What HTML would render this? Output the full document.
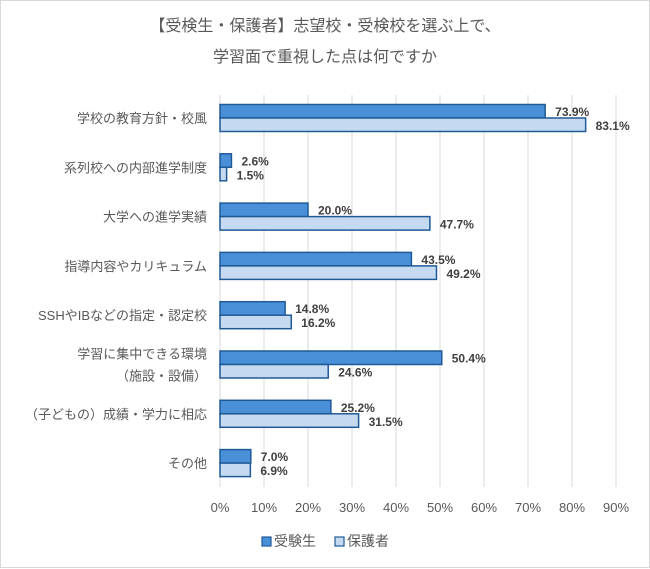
<!DOCTYPE html>
<html><head><meta charset="utf-8"><style>
body{margin:0;background:#fff;}
svg{display:block;font-family:"Liberation Sans","Noto Sans CJK JP",sans-serif;}
</style></head><body>
<svg id="c" width="650" height="569" viewBox="0 0 650 569">
<rect x="0.5" y="0.5" width="649" height="567" fill="#fff" stroke="#d9d9d9"/>
<text x="325" y="31" text-anchor="middle" font-size="16" fill="#595959">【受検生・保護者】志望校・受検校を選ぶ上で、</text>
<text x="325" y="62" text-anchor="middle" font-size="16" fill="#595959">学習面で重視した点は何ですか</text>
<g id="grid"></g><g id="bars"></g><g id="labels"></g>
<rect x="262" y="537" width="9" height="9" fill="#4a90d9" stroke="#1f5a96" stroke-width="1.2"/>
<text x="274" y="546" font-size="14" fill="#595959">受験生</text>
<rect x="335" y="537" width="9" height="9" fill="#c5daf0" stroke="#1f5a96" stroke-width="1.2"/>
<text x="347" y="546" font-size="14" fill="#595959">保護者</text>
</svg>
<script>
const categories=[["学校の教育方針・校風"],["系列校への内部進学制度"],["大学への進学実績"],["指導内容やカリキュラム"],["SSHやIBなどの指定・認定校"],["学習に集中できる環境","（施設・設備）"],["（子どもの）成績・学力に相応"],["その他"]];
const students=[73.9,2.6,20.0,43.5,14.8,50.4,25.2,7.0];
const parents=[83.1,1.5,47.7,49.2,16.2,24.6,31.5,6.9];
const ticks=[0,10,20,30,40,50,60,70,80,90];
const NS="http://www.w3.org/2000/svg";
const x0=220,pxPer=4.4,yTop=95,yBot=487,row0=118,pitch=49.3,bh=13.5;
const xs=v=>x0+v*pxPer;
const yc=i=>row0+i*pitch;
function mk(tag,at,parent){const e=document.createElementNS(NS,tag);for(const k in at)e.setAttribute(k,at[k]);parent.appendChild(e);return e;}
const G=document.getElementById('grid'),B=document.getElementById('bars'),L=document.getElementById('labels');
ticks.forEach(t=>{
  const l=mk('line',{x1:xs(t),x2:xs(t),y1:yTop,y2:yBot,stroke:'#d9d9d9','stroke-width':1},G);
  
  
  const tx=mk('text',{x:xs(t),y:512,'text-anchor':'middle','font-size':13,fill:'#595959'},L);
  tx.textContent=t+'%';
  
  
});
categories.forEach((c,i)=>{
  const y=yc(i);
  const lines=c;
  lines.forEach((s,j)=>{
    const t=mk('text',{x:207,y:y+5+(j-(lines.length-1)/2)*22,'text-anchor':'end','font-size':13,fill:'#595959'},L);
    t.textContent=s;
    
    
  });
  const r1=mk('rect',{x:x0,y:y-bh,width:xs(students[i])-x0,height:bh,fill:'#4a90d9',stroke:'#1f5a96','stroke-width':1.5},B);
  
  
  const r2=mk('rect',{x:x0,y:y,width:xs(parents[i])-x0,height:bh,fill:'#c5daf0',stroke:'#1f5a96','stroke-width':1.5},B);
  
  
  const v1=mk('text',{x:xs(students[i])+10,y:y-2,'font-size':12,'font-weight':'bold',fill:'#404040'},L);
  v1.textContent=students[i].toFixed(1)+'%';
  
  
  const v2=mk('text',{x:xs(parents[i])+10,y:y+12,'font-size':12,'font-weight':'bold',fill:'#404040'},L);
  v2.textContent=parents[i].toFixed(1)+'%';
  
  
});
</script>
</body></html>
